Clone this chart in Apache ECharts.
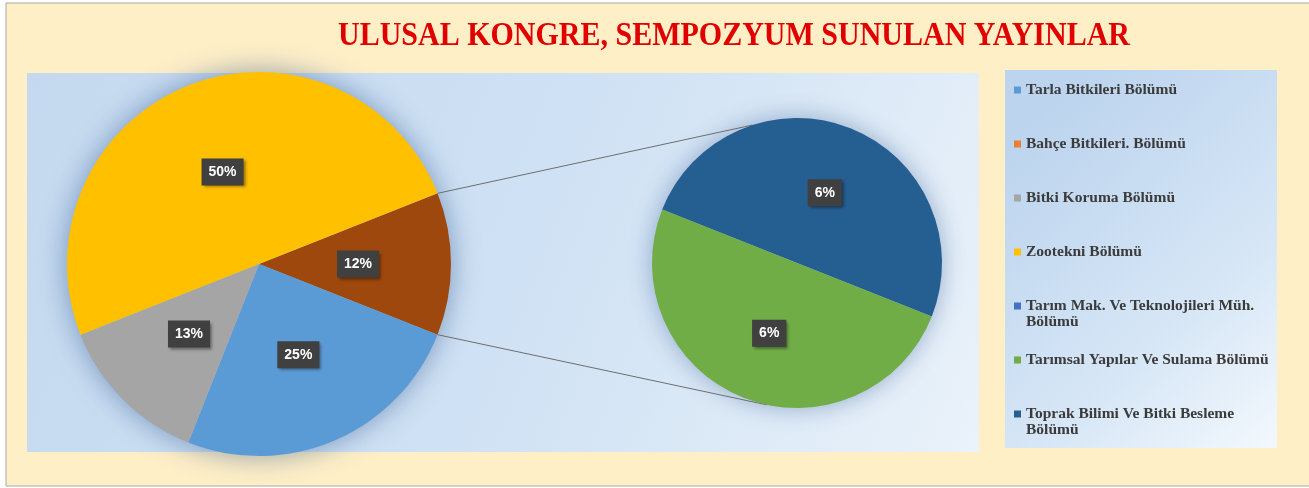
<!DOCTYPE html>
<html>
<head>
<meta charset="utf-8">
<script src="https://cdn.jsdelivr.net/npm/echarts@6/dist/echarts.min.js"></script>
<style>
  html, body { margin: 0; padding: 0; background: #fff; }
  #main { width: 1309px; height: 488px; }
</style>
</head>
<body>
<div id="main"></div>
<script>
// legend entries (Excel order) and their colours
const legendNames = [
  'Tarla Bitkileri Bölümü',
  'Bahçe Bitkileri. Bölümü',
  'Bitki Koruma Bölümü',
  'Zootekni Bölümü',
  'Tarım Mak. Ve Teknolojileri Müh. Bölümü',
  'Tarımsal Yapılar Ve Sulama Bölümü',
  'Toprak Bilimi Ve Bitki Besleme Bölümü'
]
const legendColors = ['#5B9BD5', '#ED7D31', '#A5A5A5', '#FFC000', '#4472C4', '#70AD47', '#255E91']
const legendWrap = [0, 0, 0, 0, 1, 0, 1]   // trailing words pushed to 2nd line

// main pie: first slice is the combined "other" slice shown in the small pie
const mainNames = ['Diğer', 'Tarla Bitkileri Bölümü', 'Bitki Koruma Bölümü', 'Zootekni Bölümü', 'Bahçe Bitkileri. Bölümü']
const mainValues = [12, 25, 13, 50, 0]
const otherColor = '#9E480E'

// secondary pie
const subNames = ['Toprak Bilimi Ve Bitki Besleme Bölümü', 'Tarımsal Yapılar Ve Sulama Bölümü', 'Tarım Mak. Ve Teknolojileri Müh. Bölümü']
const subValues = [6, 6, 0]

const titleText = 'ULUSAL KONGRE, SEMPOZYUM SUNULAN YAYINLAR'

const mainCenter = [259, 264], mainR = 192
const subCenter = [797, 263], subR = 145

const colorOf = name => {
  const i = legendNames.indexOf(name)
  return i < 0 ? otherColor : legendColors[i]
}

const total = mainValues.reduce((a, b) => a + b, 0)
const halfOther = mainValues[0] / total * 180   // half angle of the "other" slice

const pointOn = (c, r, deg) => [c[0] + r * Math.cos(deg * Math.PI / 180), c[1] - r * Math.sin(deg * Math.PI / 180)]

const labelStyle = {
  show: true,
  position: 'inside',
  formatter: '{c}%',
  color: '#fff',
  fontFamily: 'Liberation Sans, Arial, sans-serif',
  fontWeight: 'bold',
  fontSize: 14,
  backgroundColor: '#404040',
  padding: [7, 7, 6, 7],
  shadowColor: 'rgba(0,0,0,0.45)',
  shadowBlur: 3,
  shadowOffsetX: 2,
  shadowOffsetY: 2
}

const toData = (names, values) => names.map((n, i) => ({
  name: n,
  value: values[i],
  itemStyle: { color: colorOf(n) },
  label: values[i] === 0 ? { show: false } : undefined
}))

const legendFont = { fontFamily: 'Liberation Serif, Times New Roman, serif', fontWeight: 'bold', fontSize: 15.5, color: '#3B3B3B', lineHeight: 16 }
const rich = {
  t: Object.assign({ padding: [0, 0, 0, 5] }, legendFont),
  t2: Object.assign({ padding: [0, 0, 0, 12] }, legendFont)
}
legendColors.forEach((c, i) => { rich['s' + i] = { width: 7, height: 7, backgroundColor: c } })

const p1 = pointOn(mainCenter, mainR, halfOther)
const p2 = pointOn(mainCenter, mainR, -halfOther)
const q1 = pointOn(subCenter, subR, 108)
const q2 = pointOn(subCenter, subR, -102)

const chart = echarts.init(document.getElementById('main'))
chart.setOption({
  animation: false,
  graphic: [
    { type: 'rect', z: 0, shape: { x: 6, y: 3, width: 1310, height: 483 },
      style: { fill: '#FFEFC6', stroke: '#A8A8A8', lineWidth: 1 } },
    { type: 'rect', z: 0, shape: { x: 27, y: 73, width: 952, height: 379 },
      style: { fill: { type: 'linear', x: 0, y: 0, x2: 1, y2: 1, colorStops: [
        { offset: 0, color: '#C4D9EF' }, { offset: 0.55, color: '#D0E2F4' }, { offset: 1, color: '#EAF2FA' }] } } },
    { type: 'rect', z: 0, shape: { x: 1005, y: 70, width: 272, height: 378 },
      style: { fill: { type: 'linear', x: 0, y: 0.2, x2: 1, y2: 1, colorStops: [
        { offset: 0, color: '#BCD4EE' }, { offset: 0.6, color: '#D6E6F6' }, { offset: 1, color: '#F3F8FD' }] } } },
    { type: 'circle', z: 0, shape: { cx: mainCenter[0], cy: mainCenter[1], r: mainR - 1 },
      style: { fill: '#9FC0E3', shadowBlur: 30, shadowColor: 'rgba(40,80,140,0.55)' } },
    { type: 'circle', z: 0, shape: { cx: subCenter[0], cy: subCenter[1], r: subR - 1 },
      style: { fill: '#9FC0E3', shadowBlur: 26, shadowColor: 'rgba(40,80,140,0.45)' } },
    { type: 'line', z: 0, shape: { x1: p1[0], y1: p1[1], x2: q1[0], y2: q1[1] },
      style: { stroke: '#6E6E6E', lineWidth: 1 } },
    { type: 'line', z: 0, shape: { x1: p2[0], y1: p2[1], x2: q2[0], y2: q2[1] },
      style: { stroke: '#6E6E6E', lineWidth: 1 } },
    { type: 'text', z: 0, x: 734, y: 36, scaleY: 1.13,
      style: { text: titleText, x: 0, y: 0, align: 'center', verticalAlign: 'middle',
        font: 'bold 30px "Liberation Serif", "Times New Roman", serif', fill: '#E00000' } }
  ],
  legend: {
    data: legendNames,
    orient: 'vertical',
    left: 1009,
    top: 82,
    padding: 0,
    itemGap: 22,
    icon: 'none',
    itemWidth: 0,
    itemHeight: 7,
    selectedMode: false,
    formatter: name => {
      const i = legendNames.indexOf(name)
      const words = name.split(' ')
      const cut = words.length - legendWrap[i]
      const l1 = words.slice(0, cut).join(' ')
      const l2 = words.slice(cut).join(' ') || ' '
      return '{s' + i + '|}{t|' + l1 + '}\n{t2|' + l2 + '}'
    },
    textStyle: { rich: rich }
  },
  series: [
    {
      type: 'pie',
      center: mainCenter,
      radius: mainR,
      startAngle: halfOther,
      clockwise: true,
      label: labelStyle,
      labelLine: { show: false },
      emphasis: { disabled: true },
      itemStyle: { borderWidth: 0 },
      data: toData(mainNames, mainValues)
    },
    {
      type: 'pie',
      center: subCenter,
      radius: subR,
      startAngle: 180 - halfOther,
      clockwise: true,
      label: labelStyle,
      labelLine: { show: false },
      emphasis: { disabled: true },
      itemStyle: { borderWidth: 0 },
      data: toData(subNames, subValues)
    }
  ]
})
</script>
</body>
</html>
